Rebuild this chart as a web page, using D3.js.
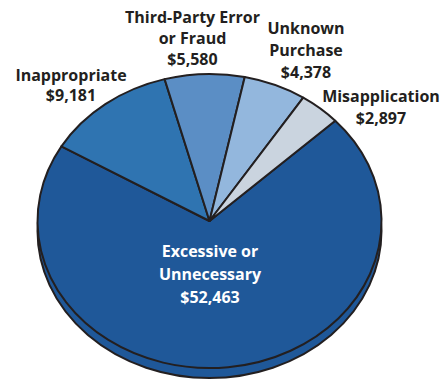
<!DOCTYPE html>
<html><head><meta charset="utf-8">
<script src="https://cdn.jsdelivr.net/npm/d3@7"></script>
<style>html,body{margin:0;padding:0;background:#fff;}svg{display:block;}</style>
</head><body>
<svg id="chart" width="443" height="381"></svg>
<script>
const categories = ["Excessive or Unnecessary", "Inappropriate", "Third-Party Error or Fraud", "Unknown Purchase", "Misapplication"];
const categoryLines = [["Excessive or", "Unnecessary"], ["Inappropriate"], ["Third-Party Error", "or Fraud"], ["Unknown", "Purchase"], ["Misapplication"]];
const values = [52463, 9181, 5580, 4378, 2897];
const colors = ["#1f5899", "#2f74b1", "#5b8ec5", "#93b7dd", "#cad4df"];

// layout (label anchors: center x, first baseline y, line height)
const labelPos = [[210, 257, "#ffffff", 23], [71, 81, "#231f20", 20], [192.5, 23, "#231f20", 21], [306, 34, "#231f20", 22], [381, 102, "#231f20", 22]];
const cx = 209.5, cy = 221, rx = 172, ry = 147, depth = 10;

const svg = d3.select("#chart");
const fmt = d3.format("$,");

// side / depth
svg.append("ellipse").attr("cx", cx).attr("cy", cy + depth).attr("rx", rx).attr("ry", ry)
  .attr("fill", colors[0]).attr("stroke", "#231f20").attr("stroke-width", 2);

const pie = d3.pie().sort(null).value(d => d).startAngle(47 * Math.PI / 180).endAngle(47 * Math.PI / 180 + 2 * Math.PI);
const arc = d3.arc().innerRadius(0).outerRadius(1);

const g = svg.append("g").attr("transform", `translate(${cx},${cy}) scale(${rx},${ry})`);
g.selectAll("path").data(pie(values)).join("path")
  .attr("d", arc)
  .attr("fill", (d, i) => colors[i])
  .attr("stroke", "#231f20").attr("stroke-width", 2)
  .attr("stroke-linejoin", "round")
  .attr("vector-effect", "non-scaling-stroke");

categories.forEach((c, i) => {
  const lines = categoryLines[i].concat([fmt(values[i])]);
  const [x, y, col, lh] = labelPos[i];
  const t = svg.append("text").attr("text-anchor", "middle").attr("fill", col)
    .style("font-family", "'Open Sans', sans-serif").style("font-weight", 700).style("font-size", "16px");
  lines.forEach((l, k) => t.append("tspan").attr("x", x).attr("y", y + k * lh).text(l));
});
</script>
</body></html>
